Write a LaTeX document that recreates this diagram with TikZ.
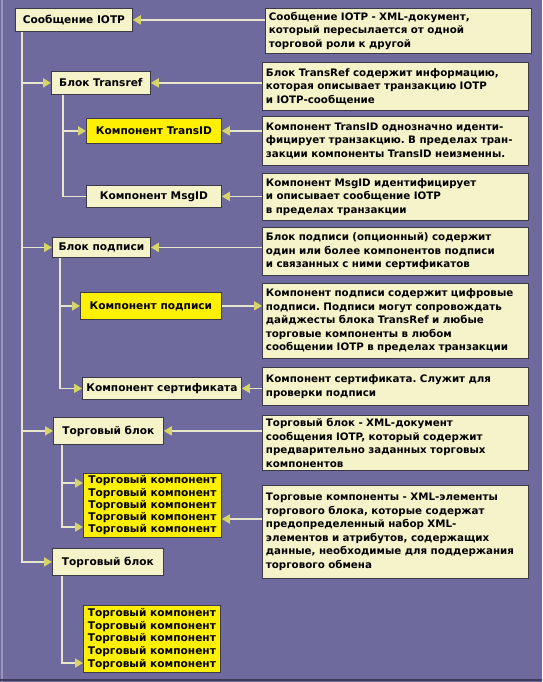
\documentclass[tikz,border=0pt]{standalone}
\usepackage{fontspec}
\setmainfont{DejaVu Sans}
\usetikzlibrary{arrows.meta}
\definecolor{bgc}{RGB}{110,106,158}
\definecolor{pale}{RGB}{245,243,202}
\definecolor{hilite}{RGB}{255,240,0}
\definecolor{boxline}{RGB}{60,58,70}
\definecolor{wire}{RGB}{232,229,205}
\definecolor{tip}{RGB}{214,214,104}
\frenchspacing

\begin{document}
\begin{tikzpicture}[x=1pt,y=-1pt,
        box/.style={draw=boxline,line width=0.8pt,fill=pale,anchor=north west,inner sep=0pt,
            font=\bfseries\fontsize{10.6}{12}\selectfont},
        ybox/.style={box,fill=hilite},
        desc/.style={box,align=left,text width=259pt,inner xsep=3.5pt,
            font=\bfseries\fontsize{10.3}{13.6}\selectfont},
        ln/.style={draw=wire,line width=1.8pt},
        arr/.style={ln,-{Triangle[length=8pt,width=9pt,color=tip]}}]
            \fill[bgc] (0,0) rectangle (542,682);
            \useasboundingbox (0,0) rectangle (542,682);
            \draw[bgc!70!white,line width=2pt] (2,0) -- (2,682);
            \draw[bgc!55!black,line width=2pt] (0,680) -- (542,680);

            \node[box,minimum width=117pt,minimum height=23pt] at (15,8) (msg) {Сообщение IOTP};
            \node[box,minimum width=99pt,minimum height=23pt] at (51,71) (trref) {Блок Transref};
            \node[ybox,minimum width=135pt,minimum height=25pt] at (86,118) (trid) {Компонент TransID};
            \node[box,minimum width=135pt,minimum height=22pt] at (86,185) (msgid) {Компонент MsgID};
            \node[box,minimum width=98pt,minimum height=20pt] at (52,237) (sigblk) {Блок подписи};
            \node[ybox,minimum width=141pt,minimum height=27pt] at (80,292) (sigc) {Компонент подписи};
            \node[box,minimum width=159pt,minimum height=22pt] at (82,377) (cert) {Компонент сертификата};
            \node[box,minimum width=110pt,minimum height=27pt] at (53,417) (trblk) {Торговый блок};
            \node[ybox,minimum width=138pt,minimum height=64pt,align=center,
                font=\bfseries\fontsize{10.6}{12.2}\selectfont] at (83,473) (trca)
                {Торговый компонент\\Торговый компонент\\Торговый компонент\\Торговый компонент\\Торговый компонент};
            \node[box,minimum width=111pt,minimum height=27pt] at (52,548) (trblkb) {Торговый блок};
            \node[ybox,minimum width=137pt,minimum height=67pt,align=center,
                font=\bfseries\fontsize{10.6}{12.6}\selectfont] at (83,605) (trcb)
                {Торговый компонент\\Торговый компонент\\Торговый компонент\\Торговый компонент\\Торговый компонент};
            \coordinate (trcrow) at ([yshift=-46pt]trca.north east);

            \node[desc,minimum height=45pt] at (265,8) (dmsg)
                {Сообщение IOTP - XML-документ,\\который пересылается от одной\\торговой роли к другой};
            \node[desc,minimum height=48pt] at (262,62) (dtrref)
                {Блок TransRef содержит информацию,\\которая описывает транзакцию IOTP\\и IOTP-сообщение};
            \node[desc,minimum height=49pt] at (262,116) (dtrid)
                {Компонент TransID однозначно иденти-\\фицирует транзакцию. В пределах тран-\\закции компоненты TransID неизменны.};
            \node[desc,minimum height=47pt] at (262,173) (dmsgid)
                {Компонент MsgID идентифицирует\\и описывает сообщение IOTP\\в пределах транзакции};
            \node[desc,minimum height=48pt] at (262,227) (dsigblk)
                {Блок подписи (опционный) содержит\\один или более компонентов подписи\\и связанных с ними сертификатов};
            \node[desc,minimum height=75pt,font=\bfseries\fontsize{10.3}{13.5}\selectfont] at (262,283) (dsigc)
                {Компонент подписи содержит цифровые\\подписи. Подписи могут сопровождать\\дайджесты блока TransRef и любые\\торговые компоненты в любом\\сообщении IOTP в пределах транзакции};
            \node[desc,minimum height=38pt] at (262,367) (dcert)
                {Компонент сертификата. Служит для\\проверки подписи};
            \node[desc,minimum height=55pt] at (262,415) (dtrblk)
                {Торговый блок - XML-документ\\сообщения IOTP, который содержит\\предварительно заданных торговых\\компонентов};
            \node[desc,minimum height=93pt] at (262,485) (dtrc)
                {Торговые компоненты - XML-элементы\\торгового блока, которые содержат\\предопределенный набор XML-\\элементов и атрибутов, содержащих\\данные, необходимые для поддержания\\торгового обмена};

            \draw[arr] ([xshift=7pt]msg.south west) |- (trref.west);
            \draw[arr] ([xshift=7pt]msg.south west) |- (sigblk.west);
            \draw[arr] ([xshift=7pt]msg.south west) |- (trblk.west);
            \draw[arr] ([xshift=7pt]msg.south west) |- (trblkb.west);
            \draw[arr] ([xshift=12pt]trref.south west) |- (trid.west);
            \draw[ln] ([xshift=12pt]trref.south west) |- (msgid.west);
            \draw[arr] ([xshift=8pt]sigblk.south west) |- (sigc.west);
            \draw[arr] ([xshift=8pt]sigblk.south west) |- (cert.west);
            \draw[arr] ([xshift=9pt]trblk.south west) |- ([yshift=-10pt]trca.north west);
            \draw[arr] ([xshift=9pt]trblk.south west) |- ([yshift=-54pt]trca.north west);
            \draw[arr] ([xshift=10pt]trblkb.south west) |- ([yshift=-58pt]trcb.north west);

            \draw[arr] (dmsg.west |- msg.east) to (msg.east);
            \draw[arr] (dtrref.west |- trref.east) to (trref.east);
            \draw[arr] (dtrid.west |- trid.east) to (trid.east);
            \draw[arr] (dmsgid.west |- msgid.east) to (msgid.east);
            \draw[arr] (dsigblk.west |- sigblk.east) to (sigblk.east);
            \draw[arr] (sigc.east) to (dsigc.west |- sigc.east);
            \draw[arr] (dcert.west |- cert.east) to (cert.east);
            \draw[arr] (dtrblk.west |- trblk.east) to (trblk.east);
            \draw[arr] (dtrc.west |- trcrow) to (trcrow);
\end{tikzpicture}
\end{document}
